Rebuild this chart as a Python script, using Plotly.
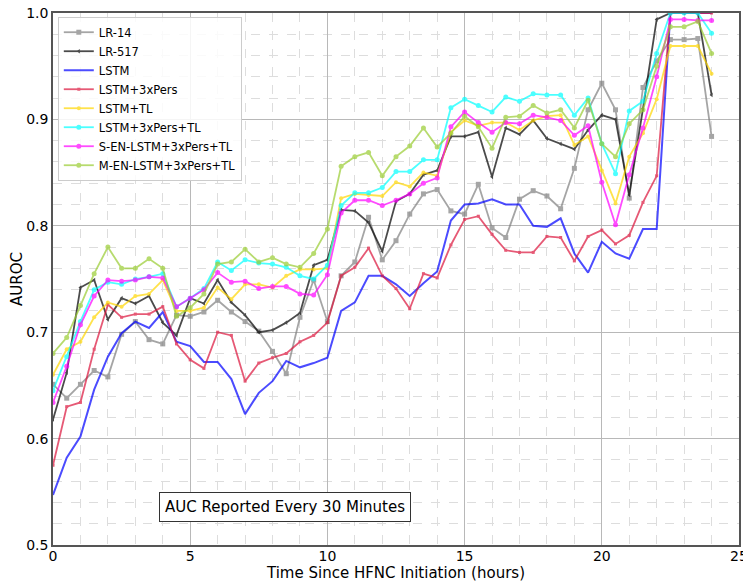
import plotly.graph_objects as go

hours = [i * 0.5 for i in range(49)]

lr14 = [0.651, 0.638, 0.651, 0.664, 0.658, 0.698, 0.710, 0.693, 0.689, 0.716,
        0.715, 0.719, 0.730, 0.719, 0.710, 0.701, 0.682, 0.661, 0.714, 0.749,
        0.710, 0.753, 0.766, 0.808, 0.768, 0.786, 0.811, 0.830, 0.834, 0.814,
        0.811, 0.839, 0.798, 0.789, 0.825, 0.833, 0.828, 0.816, 0.854, 0.909,
        0.934, 0.909, 0.826, 0.930, 0.955, 0.975, 0.975, 0.976, 0.884]
lr517 = [0.618, 0.662, 0.742, 0.749, 0.712, 0.732, 0.727, 0.734, 0.709, 0.697,
         0.732, 0.727, 0.749, 0.728, 0.716, 0.700, 0.702, 0.709, 0.718, 0.763,
         0.768, 0.815, 0.814, 0.803, 0.776, 0.823, 0.830, 0.848, 0.852, 0.884,
         0.884, 0.888, 0.846, 0.892, 0.886, 0.899, 0.882, 0.877, 0.872, 0.890,
         0.904, 0.900, 0.829, 0.910, 0.994, 1.0, 1.0, 1.0, 0.923]
lstm = [0.547, 0.582, 0.602, 0.646, 0.677, 0.699, 0.710, 0.704, 0.719, 0.691,
        0.687, 0.672, 0.672, 0.656, 0.623, 0.643, 0.654, 0.673, 0.667, 0.671,
        0.676, 0.720, 0.728, 0.753, 0.753, 0.745, 0.734, 0.746, 0.757, 0.805,
        0.820, 0.821, 0.825, 0.820, 0.820, 0.800, 0.799, 0.807, 0.774, 0.756,
        0.785, 0.774, 0.769, 0.797, 0.797, 1.0, 1.0, 1.0, 1.0]
lstm_pers = [0.575, 0.630, 0.634, 0.684, 0.726, 0.714, 0.717, 0.717, 0.724, 0.689,
             0.674, 0.666, 0.700, 0.697, 0.654, 0.671, 0.676, 0.680, 0.691, 0.697,
             0.709, 0.753, 0.761, 0.779, 0.753, 0.741, 0.722, 0.755, 0.751, 0.782,
             0.806, 0.809, 0.792, 0.777, 0.775, 0.775, 0.790, 0.789, 0.767, 0.790,
             0.796, 0.783, 0.791, 0.822, 0.847, 1.0, 1.0, 1.0, 1.0]
lstm_tl = [0.660, 0.684, 0.691, 0.714, 0.728, 0.724, 0.734, 0.736, 0.749, 0.720,
           0.720, 0.723, 0.742, 0.731, 0.745, 0.745, 0.742, 0.753, 0.759, 0.759,
           0.760, 0.826, 0.830, 0.829, 0.828, 0.841, 0.837, 0.850, 0.847, 0.888,
           0.899, 0.894, 0.897, 0.897, 0.890, 0.899, 0.903, 0.904, 0.876, 0.884,
           0.852, 0.821, 0.865, 0.887, 0.919, 0.969, 0.969, 0.969, 0.943]
lstm_pers_tl = [0.645, 0.677, 0.710, 0.740, 0.747, 0.745, 0.750, 0.752, 0.755, 0.724,
                0.732, 0.741, 0.766, 0.758, 0.768, 0.765, 0.764, 0.761, 0.753, 0.750,
                0.763, 0.819, 0.831, 0.831, 0.836, 0.851, 0.851, 0.862, 0.862, 0.911,
                0.919, 0.913, 0.907, 0.921, 0.917, 0.924, 0.923, 0.923, 0.904, 0.920,
                0.877, 0.849, 0.908, 0.917, 0.962, 1.0, 1.0, 1.0, 0.981]
s_en = [0.634, 0.668, 0.707, 0.734, 0.749, 0.748, 0.749, 0.752, 0.751, 0.724,
        0.732, 0.740, 0.756, 0.747, 0.748, 0.741, 0.743, 0.743, 0.736, 0.735,
        0.754, 0.812, 0.824, 0.824, 0.819, 0.824, 0.830, 0.840, 0.845, 0.893,
        0.907, 0.897, 0.888, 0.897, 0.896, 0.904, 0.902, 0.899, 0.885, 0.894,
        0.841, 0.801, 0.848, 0.892, 0.940, 0.994, 0.994, 0.993, 0.993]
m_en = [0.680, 0.695, 0.725, 0.755, 0.780, 0.760, 0.760, 0.769, 0.760, 0.715,
        0.723, 0.736, 0.764, 0.766, 0.778, 0.766, 0.770, 0.764, 0.761, 0.774,
        0.797, 0.856, 0.865, 0.869, 0.847, 0.865, 0.875, 0.892, 0.874, 0.887,
        0.903, 0.893, 0.873, 0.902, 0.903, 0.913, 0.906, 0.909, 0.892, 0.918,
        0.877, 0.865, 0.896, 0.909, 0.950, 0.987, 0.987, 0.992, 0.962]

series = [
    ("LR-14", lr14, "#808080", "square", 5),
    ("LR-517", lr517, "#000000", "triangle-left", 4),
    ("LSTM", lstm, "#0000ff", None, 0),
    ("LSTM+3xPers", lstm_pers, "#dc143c", "square", 3),
    ("LSTM+TL", lstm_tl, "#ffd700", "circle", 4),
    ("LSTM+3xPers+TL", lstm_pers_tl, "#00ffff", "circle", 5),
    ("S-EN-LSTM+3xPers+TL", s_en, "#ff00ff", "circle", 5),
    ("M-EN-LSTM+3xPers+TL", m_en, "#9acd32", "circle", 5),
]

fig = go.Figure()
for name, vals, color, sym, size in series:
    kw = dict(x=hours, y=vals, name=name, opacity=0.7,
              line=dict(color=color, width=2 if sym is None else 1.8))
    if sym is None:
        kw["mode"] = "lines"
    else:
        kw["mode"] = "lines+markers"
        kw["marker"] = dict(symbol=sym, size=size, color=color)
    fig.add_trace(go.Scatter(**kw))

fig.add_annotation(x=8.45, y=0.5356, xref="x", yref="y",
                   text="AUC Reported Every 30 Minutes", showarrow=False,
                   font=dict(size=15, color="#000000", family="DejaVu Sans"),
                   bordercolor="#333333", borderwidth=1, borderpad=5,
                   bgcolor="#ffffff")

axis_common = dict(showline=True, linecolor="#555555", linewidth=1.5, mirror=True,
                   showgrid=True, gridcolor="#b8b8b8", gridwidth=1,
                   ticks="", zeroline=False, automargin=False,
                   ticklabeloverflow="allow",
                   tickfont=dict(size=14, color="#000000", family="DejaVu Sans"))

fig.update_layout(
    width=743, height=582,
    margin=dict(l=53, r=4, t=13, b=37),
    paper_bgcolor="#ffffff", plot_bgcolor="#ffffff",
    font=dict(family="DejaVu Sans", color="#000000"),
    xaxis=dict(range=[0, 25], dtick=5, tick0=0, ticklabelstandoff=-3,
               title=dict(text="Time Since HFNC Initiation (hours)", font=dict(size=15), standoff=0),
               minor=dict(dtick=1, showgrid=True, gridcolor="#dddddd", griddash="dash", gridwidth=1),
               **axis_common),
    yaxis=dict(range=[0.5, 1.0], dtick=0.1, tick0=0.5, tickformat=".1f",
               title=dict(text="AUROC", font=dict(size=15), standoff=0),
               minor=dict(dtick=0.02, showgrid=True, gridcolor="#dddddd", griddash="dash", gridwidth=1),
               **axis_common),
    legend=dict(x=0.007, y=0.993, xanchor="left", yanchor="top",
                bgcolor="rgba(255,255,255,0.85)", bordercolor="#cccccc", borderwidth=1,
                font=dict(size=11.5, family="DejaVu Sans"), tracegroupgap=0,
                itemwidth=30),
    showlegend=True,
)

fig.write_html("out.html", config={"displayModeBar": False},
               post_script="document.body.style.margin='0px';document.body.style.overflow='hidden';")
